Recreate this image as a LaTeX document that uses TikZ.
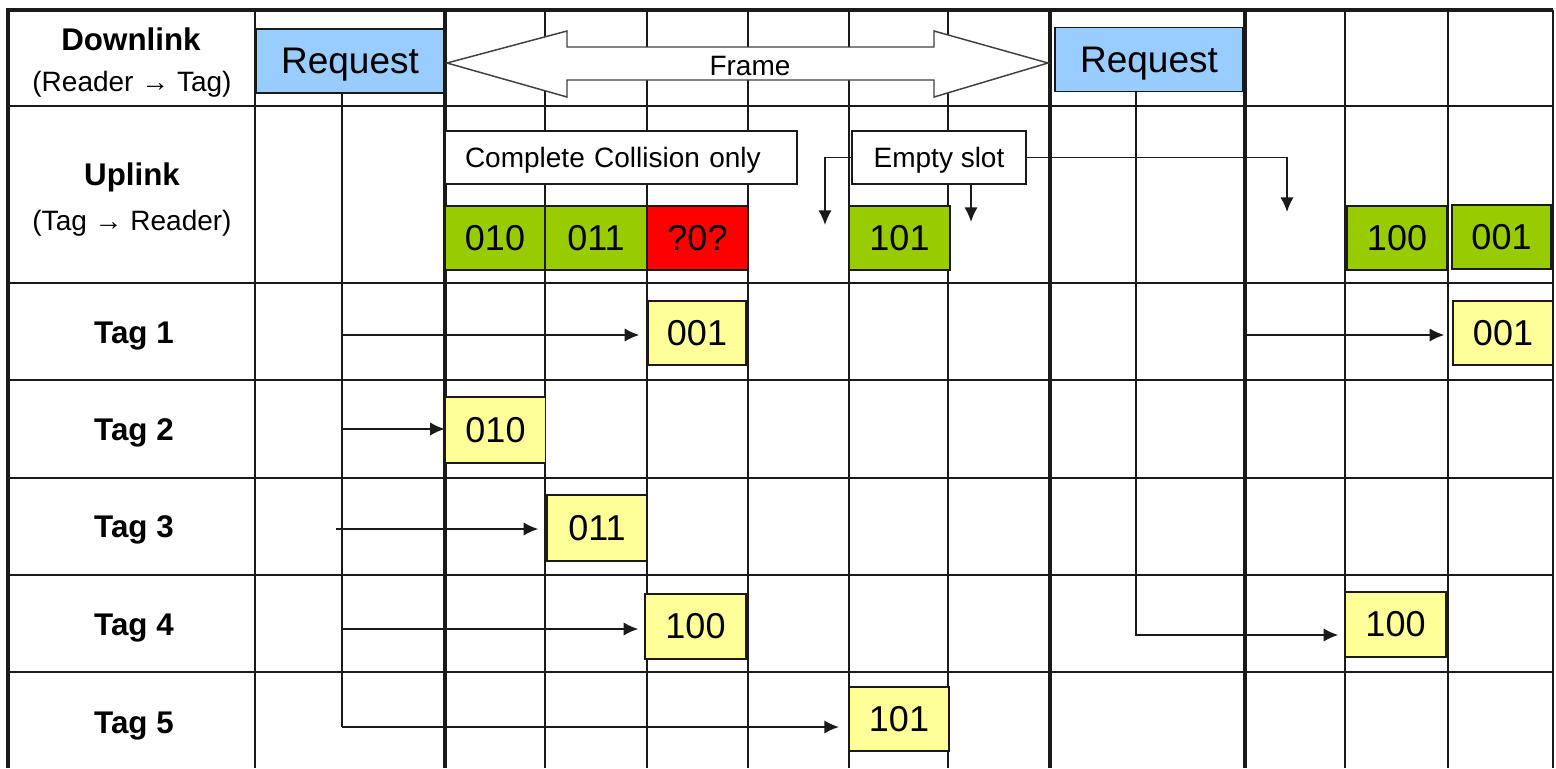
\documentclass[tikz,border=0pt]{standalone}
\usepackage{fontspec}
\setmainfont{Liberation Sans}
\usetikzlibrary{arrows.meta}
\definecolor{reqblue}{HTML}{99CCFF}
\definecolor{okgreen}{HTML}{99CC00}
\definecolor{colred}{HTML}{FF0000}
\definecolor{tagyellow}{HTML}{FFFF99}
\definecolor{linec}{HTML}{1A1A1A}
\definecolor{framec}{HTML}{404040}
\begin{document}
\begin{tikzpicture}[x=0.75pt,y=-0.75pt,
  gl/.style={line width=1.3pt, draw=linec},
  gk/.style={line width=3pt, draw=linec},
  box/.style={draw=linec, line width=1.1pt, inner sep=0pt, minimum width=75pt, minimum height=48pt, font=\fontsize{27}{30}\selectfont},
  grn/.style={box, fill=okgreen},
  ylw/.style={box, fill=tagyellow},
  clash/.style={box, fill=colred},
  reqbox/.style={draw=linec, line width=1.1pt, fill=reqblue, inner sep=0pt, minimum width=140pt, minimum height=48pt, text depth=0pt, font=\fontsize{27.75}{30}\selectfont},
  note/.style={draw=linec, line width=1pt, fill=white, inner sep=0pt, minimum height=39.75pt, text depth=0pt, font=\fontsize{21}{24}\selectfont},
  lbl/.style={anchor=base, font=\bfseries\fontsize{23.5}{26}\selectfont},
  sub/.style={anchor=base, font=\fontsize{21}{24}\selectfont},
  conn/.style={line width=1.3pt, draw=linec},
  arr/.style={conn, -{Latex[length=11pt,width=10pt]}},
]
\useasboundingbox (0,0) rectangle (1556,768);
\fill[white] (0,0) rectangle (1556,768);
% grid
\foreach \y in {106,283,380,478,575,672} \draw[gl] (8,\y) -- (1553,\y);
\foreach \x in {255,545,647,748,849,948,1345,1448,1553} \draw[gl] (\x,10) -- (\x,768);
\foreach \x in {445,1050,1245} \draw[gk] (\x,10) -- (\x,768);
\draw[gk] (8,768) -- (8,10) -- (1553,10);
% frame arrow
\draw[draw=framec, line width=1.1pt, fill=white] (447,63) -- (567,31) -- (567,47) -- (934,47) -- (934,31) -- (1048,63) -- (934,97) -- (934,80) -- (567,80) -- (567,97) -- cycle;
\node[font=\fontsize{21}{24}\selectfont, text depth=0pt] (frame) at (750,66) {Frame};
% requests
\node[reqbox] (req1) at (350,61) {Request};
\node[reqbox, minimum width=141pt] (req2) at (1149,59.5) {Request};
% row labels
\node[lbl] (dl) at (131,50) {Downlink};
\node[sub] (dls) at (132,91) {(Reader → Tag)};
\node[lbl] (ul) at (132,185) {Uplink};
\node[sub] (uls) at (132,230) {(Tag → Reader)};
\node[lbl] (tag1) at (134,343) {Tag 1};
\node[lbl] (tag2) at (134,440) {Tag 2};
\node[lbl] (tag3) at (134,537) {Tag 3};
\node[lbl] (tag4) at (134,635) {Tag 4};
\node[lbl] (tag5) at (134,733) {Tag 5};
% uplink notes
\node[note, minimum width=264pt, inner xsep=15pt, text width=234pt, align=left] (cc) at (621,157.5) {Complete Collision only};
\node[note, minimum width=130.5pt] (es) at (939,157.5) {Empty slot};
% uplink slots
\node[grn] (u010) at (495,238) {010};
\node[grn, minimum width=76.5pt] (u011) at (596,238) {011};
\node[clash, minimum width=75.75pt] (uq) at (697.5,238) {?0?};
\node[grn, minimum width=75.75pt] (u101) at (899.5,238) {101};
\node[grn] (u100) at (1397,238) {100};
\node[grn, minimum width=74.25pt] (u001) at (1501.5,237) {001};
% tag replies
\node[ylw, minimum width=73.5pt] (t1a) at (697,333) {001};
\node[ylw, minimum height=49.5pt] (t2) at (495.5,430) {010};
\node[ylw, minimum height=49.5pt] (t3) at (597,528) {011};
\node[ylw, minimum width=75.75pt, minimum height=48.75pt] (t4) at (695.5,626.5) {100};
\node[ylw] (t5) at (899,719) {101};
\node[ylw] (t1b) at (1503,333) {001};
\node[ylw, minimum width=75.75pt, minimum height=48.75pt] (t4b) at (1395.5,624.5) {100};
% empty slot pointers
\coordinate (e1) at (825,225);
\coordinate (e2) at (971,222);
\coordinate (e3) at (1287,212);
\draw[arr] (es.west) -| (e1);
\draw[arr] (es.south -| e2) -- (e2);
\draw[arr] (es.east) -| (e3);
% first request fan-out
\coordinate (j1) at (342,335);
\coordinate (j2) at (342,429);
\coordinate (j3) at (336,529);
\coordinate (j4) at (342,629);
\coordinate (j5) at (342,727);
\draw[conn] (req1.south -| j5) -- (j5);
\draw[arr, shorten >=6pt] (j1) -- (j1 -| t1a.west);
\draw[arr] (j2) -- (j2 -| t2.west);
\draw[arr, shorten >=6pt] (j3) -- (j3 -| t3.west);
\draw[arr, shorten >=4.5pt] (j4) -- (j4 -| t4.west);
\draw[arr, shorten >=7pt] (j5) -- (j5 -| t5.west);
% second request
\coordinate (j6) at (1136,635);
\coordinate (j7) at (1247,335);
\draw[arr, shorten >=4.5pt] (req2.south -| j6) -- (j6) -- (j6 -| t4b.west);
\draw[arr, shorten >=6pt] (j7) -- (j7 -| t1b.west);
\end{tikzpicture}
\end{document}
